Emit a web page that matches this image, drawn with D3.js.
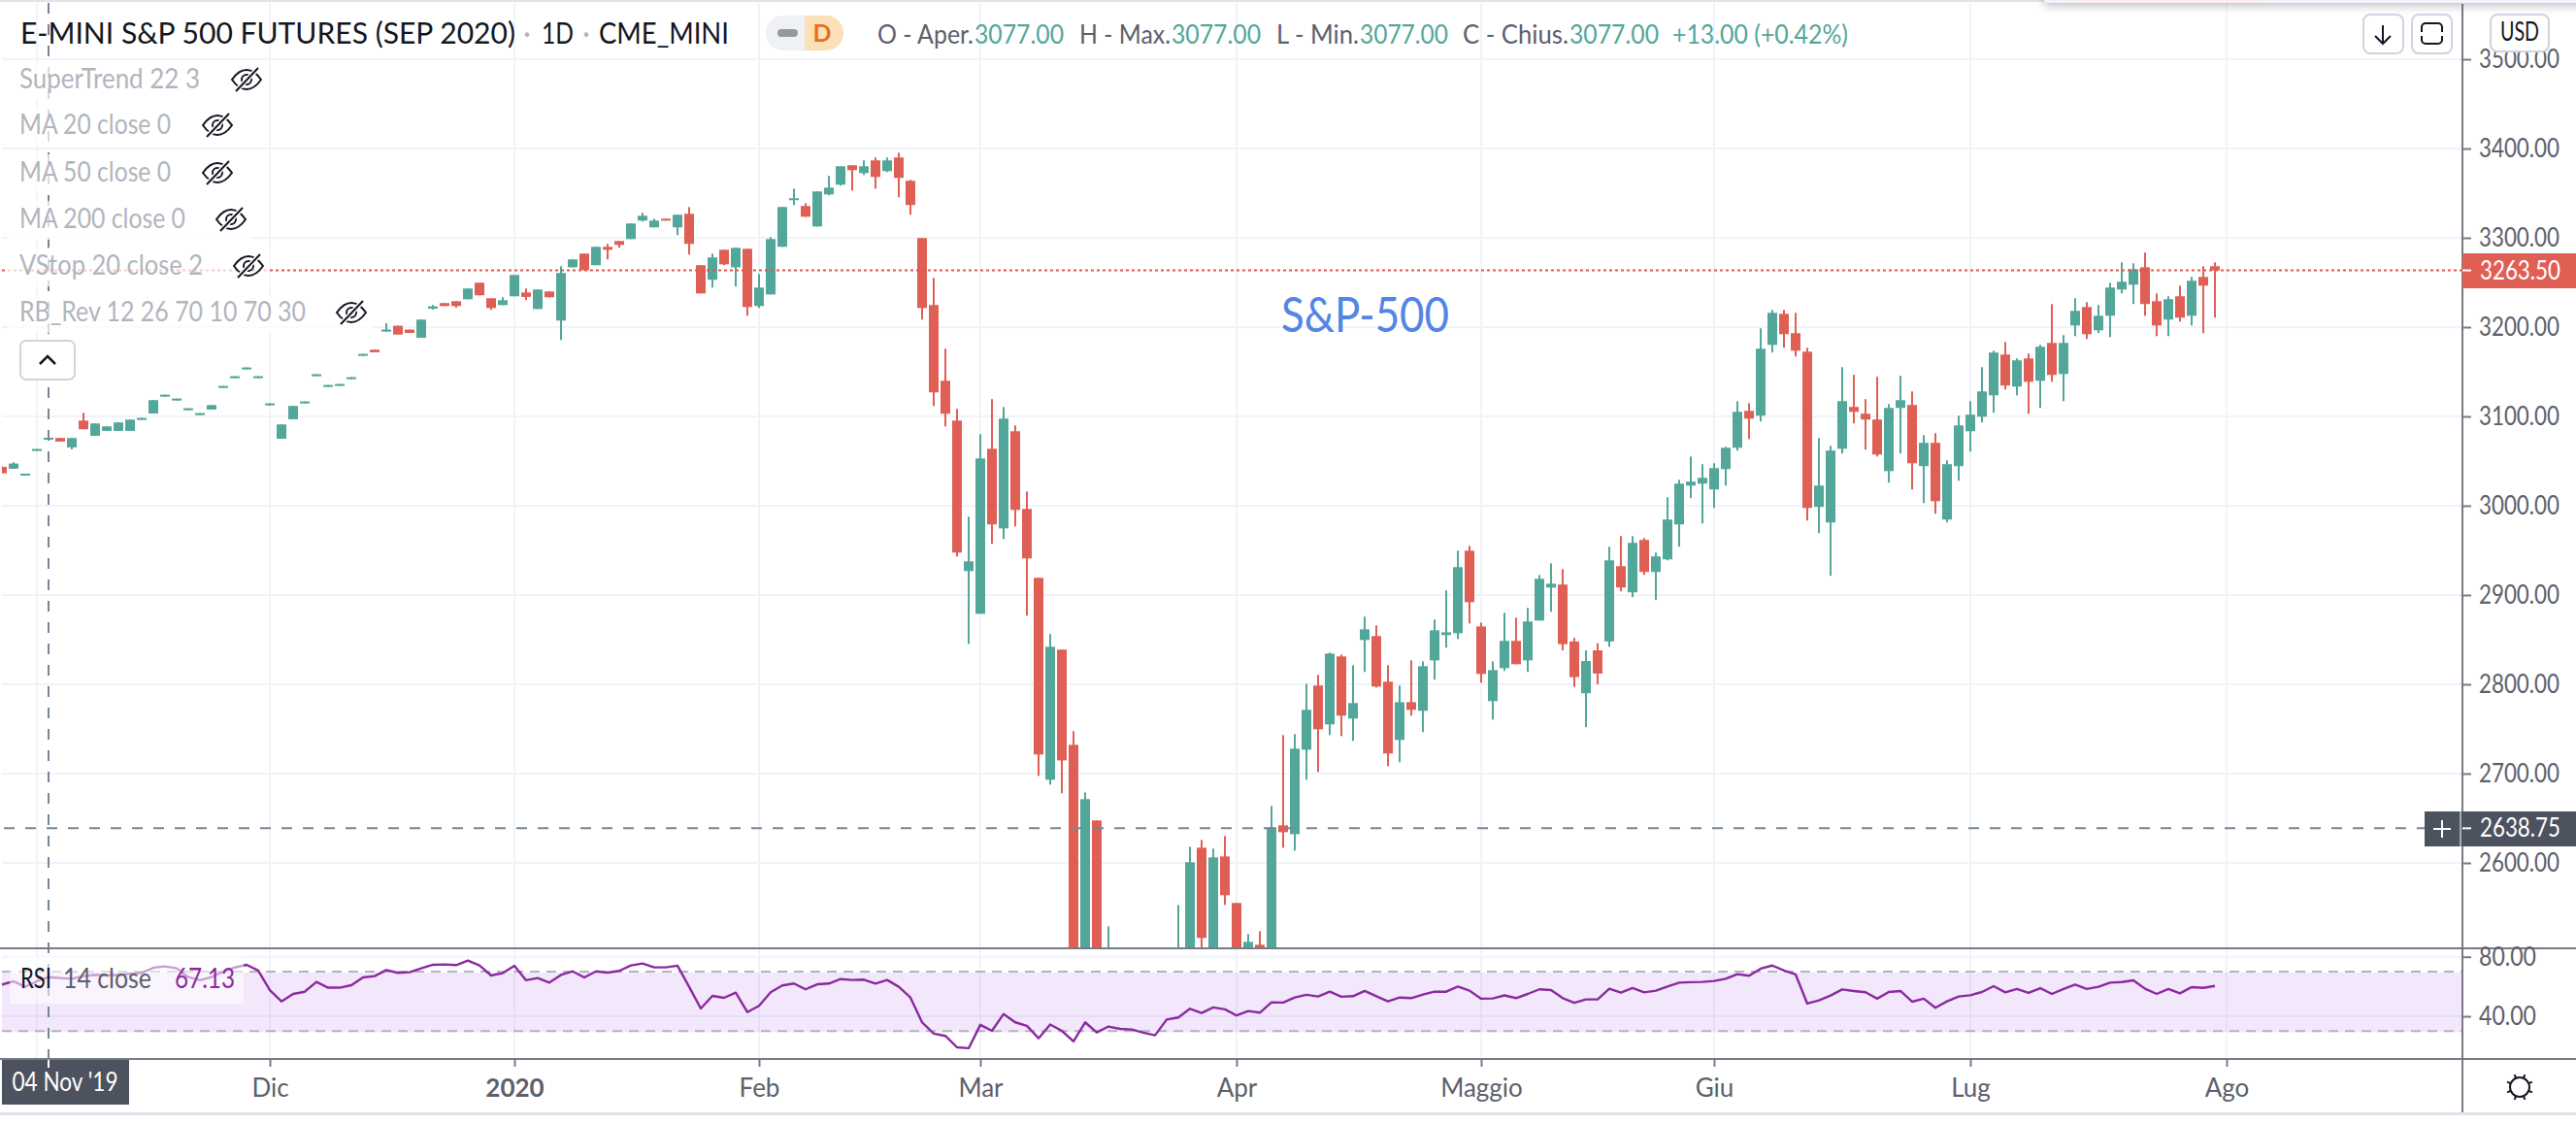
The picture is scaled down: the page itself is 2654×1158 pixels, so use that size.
<!DOCTYPE html>
<html>
<head>
<meta charset="utf-8">
<title>E-MINI S&P 500 FUTURES</title>
<script src="https://cdn.jsdelivr.net/npm/d3@7/dist/d3.min.js"></script>
<style>
  html, body { margin: 0; padding: 0; background: #ffffff; overflow: hidden; }
  svg { display: block; }
</style>
</head>
<body>
<div id="chart"></div>
<script>
// daily candles, one value per trading day (values under 2504 are off the pane, so estimated)
const opens = [
  3043.5,3041.4,3034.5,3061.3,3074,3075.8,3065.3,3095.3,3078.3,3083.8,
  3083.8,3083.8,3096.1,3103.3,3122.2,3117.8,3107,3101.5,3107.7,3131.9,
  3142.8,3152.6,3142.8,3112.4,3075,3096.8,3114.6,3145,3133,3134.1,
  3141.7,3167.8,3174.7,3195,3201.5,3197.2,3188.1,3220.7,3226.9,3229,
  3231.2,3249.7,3232.3,3224.7,3234.5,3238.8,3220.3,3239.9,3207.3,3267,
  3282.3,3269.3,3289.9,3296.4,3298.6,3319.3,3311.7,3321.4,3311.7,3326.9,
  3269.3,3253,3286.6,3267,3287.7,3223.6,3236.6,3289.9,3342.8,3335.6,
  3312.7,3348.6,3359.5,3381.2,3372.5,3386.7,3374.7,3389.9,3363.8,3299.7,
  3224.7,3139.9,3095.3,2926.8,2879,3063.8,2974.6,3083.4,2996.4,2919.2,
  2693.1,2838.8,2732.2,2450,2647.5,2300,2470,2370,2430,2280,
  2390,2230,2430,2617,2490,2607.2,2555.1,2470,2508.3,2480,
  2642,2632.2,2726.8,2798.6,2755.1,2831.2,2761.6,2849.6,2854,2802.9,
  2737.7,2780,2770.3,2826.8,2855.1,2857.2,2949.6,2864.8,2781.2,2818.1,
  2848.6,2826.8,2871.4,2908.3,2911.7,2848,2790,2838,2848,2932.3,
  2903,2961.7,2925.8,2939.9,2979,3022.5,3024.7,3018.2,3041,3064.9,
  3106.2,3100.8,3180.1,3214.9,3193.2,3172.5,2998.6,2981.2,3063.8,3110.6,
  3103,3096.5,3038.8,3109.5,3112.8,3044.3,3070.4,2984.5,3044.3,3083.4,
  3099.7,3123.6,3169.3,3133.4,3164.9,3139.9,3182.3,3147.5,3201.9,3222.5,
  3196.4,3212.7,3242.1,3247.5,3267,3229,3208.4,3234.5,3212.7,3256.2,
  3268.2
];
const highs = [
  3044,3048.6,3035.9,3063.5,3076.1,3075.8,3075.8,3104,3092.1,3088.8,
  3093.2,3096.4,3098.3,3118.2,3124.3,3120,3109.1,3103.7,3112.7,3134.1,
  3145,3154.8,3145,3114.6,3091,3111.7,3116.7,3147.2,3135.2,3136.3,
  3143.9,3170,3174.7,3204.4,3201.5,3197.2,3208.4,3224.7,3226.9,3229,
  3243.2,3249.7,3232.3,3233.4,3258.4,3243.2,3242.1,3239.9,3268.2,3275.8,
  3282.3,3289.9,3293.2,3296.4,3316,3328,3321.4,3321.4,3325.8,3334.5,
  3269.3,3282.3,3286.6,3288.8,3287.7,3259.5,3300.8,3334.5,3355.1,3338.8,
  3351.9,3369.3,3380.1,3381.2,3386.7,3389.9,3389.9,3395.3,3364.9,3299.7,
  3255.1,3175.8,3108.4,2987.7,3080.1,3119.3,3110.6,3089.9,3015.9,2919.2,
  2856.2,2838.8,2747.5,2679,2647.5,2529,2490,2480,2470,2420,
  2450,2552.9,2618,2625.7,2616,2630,2555.1,2520.3,2523.5,2663.8,
  2743.1,2744.2,2800.7,2810.5,2835.5,2833.3,2821.4,2875.7,2866,2821.4,
  2798.6,2826.8,2825.7,2872.5,2905.1,2949.6,2955,2869.2,2825.7,2880,
  2874.6,2885.5,2922.5,2935.5,2929,2852,2838,2846,2954,2966,
  2966,2963.8,2947.5,3009.5,3029,3055.1,3046.5,3047.5,3066,3117.1,
  3114.9,3198.6,3219.3,3219.3,3216,3176.9,3075.8,3067.1,3155.1,3146.5,
  3119.3,3144.3,3113.8,3145.4,3128,3079,3081.2,3050.8,3100.8,3117.1,
  3155.1,3173.6,3183.4,3164.9,3170.4,3180.1,3225.8,3191,3232.3,3227.9,
  3224.7,3249.7,3272.5,3271.4,3283.4,3237.7,3234.5,3246.4,3256.2,3268.2,
  3272.5
];
const lows = [
  3036,3041.4,3034.5,3061.3,3074,3071.8,3063.1,3085.6,3078.3,3083.8,
  3083.8,3083.8,3096.1,3103.3,3122.2,3117.8,3107,3101.5,3107.7,3131.9,
  3142.8,3152.6,3142.8,3112.4,3075,3096.8,3114.6,3145,3133,3134.1,
  3141.7,3167.8,3171.8,3195,3191.7,3193.5,3188.1,3219.6,3223.6,3221.8,
  3231.2,3235.6,3219.3,3224.7,3234.5,3230.1,3220.3,3233.4,3185.6,3267,
  3263.8,3269.3,3275.8,3288.8,3298.6,3318.2,3311.7,3319.3,3303,3281.2,
  3237.7,3244.3,3269.3,3245.4,3212.7,3221.4,3236.6,3289.9,3336.7,3323.6,
  3312.7,3347.5,3358.4,3353,3370.3,3355.1,3373.6,3345.3,3325.8,3208.4,
  3111.7,3088.8,2943.1,2845.3,2879,2957.2,2962.7,2976.8,2876.8,2697.5,
  2687.7,2677.9,2400,2440,2380,2280,2360,2340,2280,2250,
  2190,2200,2410,2470,2450,2552.9,2450,2450,2460,2470,
  2617,2613.8,2693.1,2701.8,2743.1,2742,2736.6,2813.8,2796.4,2708.3,
  2712.7,2764.9,2746.4,2805.1,2841,2850.7,2868.1,2801.8,2760.5,2814.9,
  2822.5,2813.8,2871.4,2881.2,2838,2797,2752,2800,2842,2904,
  2897.5,2922.5,2894.3,2938.8,2954.1,3008.4,2980.1,2997.5,3022.5,3061.7,
  3074.7,3094.3,3171.5,3176.9,3167.1,2983.4,2969.3,2921.5,3058.4,3092.1,
  3062.8,3055.1,3025.8,3058.4,3018.2,3003,2991,2981.2,3028,3060.6,
  3093.2,3104.1,3130.1,3123.6,3103,3109.5,3138.8,3117.1,3189.9,3186.6,
  3193.2,3188.8,3237.7,3225.8,3212.7,3189.9,3189.9,3206.2,3201.9,3193.2,
  3210.6
];
const closes = [
  3036.3,3047.2,3035.9,3063.5,3076.1,3071.8,3075.8,3085.6,3092.1,3088.8,
  3093.2,3096.4,3098.3,3118.2,3124.3,3120,3109.1,3103.7,3112.7,3134.1,
  3145,3154.8,3145,3114.6,3091,3111.7,3116.7,3147.2,3135.2,3136.3,
  3143.9,3170,3171.8,3197.2,3191.7,3193.5,3208.4,3223.2,3223.6,3223.6,
  3243.2,3235.6,3221.4,3230.1,3258.4,3233.8,3242.1,3233.4,3260.6,3275.8,
  3263.8,3289.9,3286.6,3292.1,3316,3324.7,3319.3,3319.3,3325.8,3293.2,
  3237.7,3278,3270.3,3288.8,3222.5,3244.3,3298.6,3334.5,3344.3,3323.6,
  3351.9,3356.2,3380.1,3375.8,3380.1,3368.2,3386.7,3367.1,3336.7,3221.4,
  3126.9,3103,2947.5,2937.7,3052.9,2979,3097.5,2995.3,2941,2721.4,
  2842,2714.8,2480,2671.4,2390,2480,2380,2440,2290,2400,
  2230,2450,2600.7,2516,2606.2,2563.8,2450,2511.6,2480,2639.8,
  2634.4,2727.9,2771.4,2749.6,2834.4,2764.9,2779,2861.6,2797.5,2722.5,
  2780,2771.4,2820.3,2860.5,2858.3,2931.2,2892,2811.6,2815.9,2848.6,
  2822.5,2870.3,2918.1,2912.7,2845,2808,2826,2812,2938.8,2908.4,
  2958.4,2925.8,2943.2,2984.5,3024.7,3026.9,3031.2,3042.1,3064.9,3105.1,
  3097.5,3175.8,3216,3192.1,3173.6,2997.5,3022.5,3061.7,3117.1,3105.1,
  3096.5,3057.3,3109.5,3118.2,3047.5,3070.4,3005.1,3046.5,3089.9,3101.9,
  3128,3171.5,3134.5,3162.8,3138.8,3178,3146.4,3182.3,3218.2,3192.1,
  3212.7,3244.3,3250.8,3264.9,3225.8,3201.9,3231.2,3210.6,3251.9,3246.4,
  3263.5
];
const rsiValues = [
  61.3,63.5,59.8,63.5,66.3,65.7,65.2,67,67.9,67.4,
  67.9,68.5,69.2,72.6,73.5,72.2,66.3,64.2,66.3,70,
  72.8,74.6,70.7,57.6,50,55,56.5,63.1,59.2,59.2,
  60.9,66.1,67,71.1,69.2,69.6,72.2,74.6,74.8,74.4,
  77.4,74.2,67.4,69,74,64.2,65.7,62.6,67.8,70.2,
  66.1,70.2,69.4,70.5,74.2,75.5,72.9,72.9,74,59.8,
  45.2,53.7,52.4,55.9,42.8,47,56.1,60.7,62,58.1,
  61.5,62,65,64.4,64.6,62,64.4,59.8,52.6,35.9,
  28.3,26.8,19.1,18.5,34.2,30.2,41.5,35.9,33.5,25.2,
  34.4,30.2,23.1,35.9,29.1,33.1,31.5,31.1,29,27.2,
  37.8,39.2,45,42.2,45.9,44.6,40.5,43.5,42.4,49.4,
  49.2,52.6,54.4,53.3,56.5,53.1,53.5,57,53.5,50,
  52.6,52.2,54.6,56.5,56.5,60,57.2,51.8,52,54,
  52.2,55,58.1,57.6,52.2,49,51.3,51.3,58.5,55.9,
  59,56.1,57.2,60,62.6,62.9,63.1,63.7,65.2,68.3,
  67.2,72,74.1,70.7,68.1,48.5,50.7,53.9,58,57,
  56.1,51.8,56.3,57,49.8,51.8,45.7,50,53.3,54.1,
  56.3,60.2,56.1,58.3,55.7,58.9,55,58.3,61.3,58.3,
  59.8,62.6,63,64.1,58.5,55,58.3,55.4,59.6,59.1,
  60.4
];

// axis ticks
const priceTicks = [2600, 2700, 2800, 2900, 3000, 3100, 3200, 3300, 3400, 3500];
const rsiTicks = [40, 80];
const monthIndexes = [23, 44, 65, 84, 106, 127, 147, 169, 191];
const monthLabels = ["Dic", "2020", "Feb", "Mar", "Apr", "Maggio", "Giu", "Lug", "Ago"];
const novIndex = 3;     // gridline without a label, hidden behind the cursor date

// marker values
const lastPrice = 3263.5;
const cursorPrice = 2638.75;
const cursorIndex = 4;
const rsiUpper = 70;
const rsiLower = 30;
const rsiLegendValue = 67.13;   // value at the cursor day, as printed in the legend

// texts
const indicatorNames = ["SuperTrend 22 3", "MA 20 close 0", "MA 50 close 0", "MA 200 close 0", "VStop 20 close 2", "RB_Rev 12 26 70 10 70 30"];

// ----- layout -----
const width = 2654, height = 1158;
const axisX = 2537;
const mainBottom = 977, rsiBottom = 1091;
const font = "Lato, 'Noto Sans', sans-serif";
const teal = "#53a69a", red = "#e05f55";
const gridColor = "#f0f3fa", axisColor = "#787b86", textColor = "#5d606b", darkLabel = "#4c525e";

// ----- scales -----
const x = d3.scaleLinear().domain([0, 191]).range([2, 2294]);
const y = d3.scaleLinear().domain([2500, 3500]).range([981, 61]);
const yRsi = d3.scaleLinear().domain([30, 80]).range([1062.3, 985.7]);

const svg = d3.select("#chart").append("svg")
  .attr("width", width)
  .attr("height", height)
  .style("font-family", font);

const defs = svg.append("defs");
defs.append("clipPath").attr("id", "main-clip").append("rect")
  .attr("x", 2).attr("y", 3).attr("width", axisX - 2).attr("height", mainBottom - 3);
defs.append("filter").attr("id", "popup-shadow")
  .attr("x", "-5%").attr("y", "-50%").attr("width", "110%").attr("height", "250%")
  .append("feDropShadow")
  .attr("dx", 0).attr("dy", 3).attr("stdDeviation", 4)
  .attr("flood-color", "#2a2e39").attr("flood-opacity", 0.3);

// helper: text with a fixed pixel width so it lines up with the screenshot
function label(parent, str, px, py, size, fill, w, anchor) {
  const t = parent.append("text")
    .attr("x", px)
    .attr("y", py)
    .attr("font-size", size)
    .attr("fill", fill)
    .attr("text-anchor", anchor || "start")
    .text(str);
  if (w) t.attr("textLength", w).attr("lengthAdjust", "spacingAndGlyphs");
  return t;
}

// ----- page frame -----
svg.append("rect").attr("width", width).attr("height", 2).attr("fill", "#e0e3eb");
svg.append("rect").attr("y", 1146).attr("width", width).attr("height", 3).attr("fill", "#e0e3eb");

// ----- grid -----
const grid = svg.append("g").attr("stroke", gridColor).attr("stroke-width", 2);
grid.selectAll(".h").data(priceTicks).enter().append("line")
  .attr("x1", 2).attr("x2", axisX)
  .attr("y1", d => y(d)).attr("y2", d => y(d));
grid.selectAll(".v").data([novIndex].concat(monthIndexes)).enter().append("line")
  .attr("x1", d => x(d)).attr("x2", d => x(d))
  .attr("y1", 3).attr("y2", rsiBottom);
grid.selectAll(".r").data(rsiTicks).enter().append("line")
  .attr("x1", 2).attr("x2", axisX)
  .attr("y1", d => yRsi(d)).attr("y2", d => yRsi(d));

// ----- RSI pane -----
svg.append("rect")
  .attr("x", 2).attr("width", axisX - 2)
  .attr("y", yRsi(rsiUpper) + 1).attr("height", yRsi(rsiLower) - yRsi(rsiUpper))
  .attr("fill", "#a855e8").attr("opacity", 0.14);
svg.selectAll(".rsi-level").data([rsiUpper, rsiLower]).enter().append("line")
  .attr("x1", 2).attr("x2", axisX)
  .attr("y1", d => yRsi(d)).attr("y2", d => yRsi(d))
  .attr("stroke", "#b4b4bc").attr("stroke-width", 2)
  .attr("stroke-dasharray", "10 7");

const rsiLine = d3.line().x((d, i) => x(i)).y(d => yRsi(d));
svg.append("path").datum(rsiValues)
  .attr("d", rsiLine)
  .attr("fill", "none")
  .attr("stroke", "#8a2a9e")
  .attr("stroke-width", 2.4)
  .attr("stroke-linejoin", "round");

// ----- candles -----
const candles = svg.append("g").attr("clip-path", "url(#main-clip)");
const candle = candles.selectAll(".candle").data(closes).enter().append("g")
  .attr("fill", (d, i) => d >= opens[i] ? teal : red);
candle.append("rect")
  .attr("x", (d, i) => x(i) - 1)
  .attr("width", 2)
  .attr("y", (d, i) => y(highs[i]))
  .attr("height", (d, i) => y(lows[i]) - y(highs[i]));
candle.append("rect")
  .attr("x", (d, i) => x(i) - 5)
  .attr("width", 10)
  .attr("y", (d, i) => y(Math.max(opens[i], d)))
  .attr("height", (d, i) => Math.max(2, Math.abs(y(opens[i]) - y(d))));

// ----- last price + crosshair lines -----
svg.append("line")
  .attr("x1", 2).attr("x2", axisX)
  .attr("y1", y(lastPrice)).attr("y2", y(lastPrice))
  .attr("stroke", "#e0564c").attr("stroke-width", 2)
  .attr("stroke-dasharray", "3 3");
const cursor = svg.append("g")
  .attr("stroke", "#758696").attr("stroke-width", 2).attr("stroke-dasharray", "11 11");
cursor.append("line")
  .attr("x1", 4).attr("x2", axisX)
  .attr("y1", y(cursorPrice)).attr("y2", y(cursorPrice));
cursor.append("line")
  .attr("x1", x(cursorIndex)).attr("x2", x(cursorIndex))
  .attr("y1", 3).attr("y2", rsiBottom);

// ----- panes + axes -----
const frame = svg.append("g").attr("stroke", axisColor).attr("stroke-width", 2);
frame.append("line").attr("x1", 0).attr("x2", width).attr("y1", mainBottom).attr("y2", mainBottom);
frame.append("line").attr("x1", 0).attr("x2", width).attr("y1", rsiBottom).attr("y2", rsiBottom);
frame.append("line").attr("x1", axisX).attr("x2", axisX).attr("y1", 4).attr("y2", 1146);

function styleAxis(g, textWidth) {
  g.select(".domain").remove();
  g.selectAll(".tick line").attr("stroke", axisColor).attr("stroke-width", 2);
  g.selectAll(".tick text")
    .attr("font-family", font)
    .attr("font-size", 26)
    .attr("fill", textColor);
  if (textWidth) {
    g.selectAll(".tick text").attr("textLength", textWidth).attr("lengthAdjust", "spacingAndGlyphs");
  }
}

svg.append("g")
  .attr("transform", "translate(" + axisX + ",0)")
  .call(d3.axisRight(y).tickValues(priceTicks).tickFormat(d3.format(".2f")).tickSize(9).tickPadding(8))
  .call(styleAxis, 83);

svg.append("g")
  .attr("transform", "translate(" + axisX + ",0)")
  .call(d3.axisRight(yRsi).tickValues(rsiTicks).tickFormat(d3.format(".2f")).tickSize(9).tickPadding(8))
  .call(styleAxis, 59);

const timeAxis = svg.append("g")
  .attr("transform", "translate(0," + rsiBottom + ")")
  .call(d3.axisBottom(x).tickValues(monthIndexes)
    .tickFormat((d, i) => monthLabels[i]).tickSize(8).tickPadding(13))
  .call(styleAxis);
timeAxis.selectAll(".tick text")
  .attr("font-weight", (d, i) => monthLabels[i] === "2020" ? 700 : 400);

// ----- price axis tags -----
svg.append("rect")
  .attr("x", axisX).attr("y", 261).attr("width", width - axisX).attr("height", 36)
  .attr("fill", red);
svg.append("line")
  .attr("x1", axisX).attr("x2", axisX + 9)
  .attr("y1", y(lastPrice)).attr("y2", y(lastPrice))
  .attr("stroke", "#ffffff").attr("stroke-width", 2);
label(svg, d3.format(".2f")(lastPrice), 2555, y(lastPrice) + 9, 26, "#ffffff", 83);

svg.append("rect")
  .attr("x", 2498).attr("y", 836).attr("width", width - 2498).attr("height", 36)
  .attr("fill", darkLabel);
svg.append("line")
  .attr("x1", 2535).attr("x2", 2535).attr("y1", 836).attr("y2", 872)
  .attr("stroke", "#ffffff").attr("stroke-width", 1);
svg.append("line")
  .attr("x1", axisX).attr("x2", axisX + 9)
  .attr("y1", y(cursorPrice)).attr("y2", y(cursorPrice))
  .attr("stroke", "#ffffff").attr("stroke-width", 2);
svg.append("path")
  .attr("d", "M2507 854H2525M2516 845V863")
  .attr("stroke", "#ffffff").attr("stroke-width", 2);
label(svg, d3.format(".2f")(cursorPrice), 2555, y(cursorPrice) + 9, 26, "#ffffff", 83);

// ----- cursor date tag -----
svg.append("rect")
  .attr("x", 2).attr("y", 1092).attr("width", 131).attr("height", 46)
  .attr("fill", darkLabel);
svg.append("line")
  .attr("x1", x(cursorIndex)).attr("x2", x(cursorIndex)).attr("y1", 1092).attr("y2", 1100)
  .attr("stroke", "#ffffff").attr("stroke-width", 2);
label(svg, "04 Nov '19", 67, 1124, 26, "#ffffff", 109, "middle");

// ----- header line -----
label(svg, "E-MINI S&P 500 FUTURES (SEP 2020)", 21, 45, 30, "#131722", 510);
label(svg, "·", 543, 45, 30, "#b2b5be", null, "middle");
label(svg, "1D", 558, 45, 30, "#131722", 33);
label(svg, "·", 604, 45, 30, "#b2b5be", null, "middle");
label(svg, "CME_MINI", 617, 45, 30, "#131722", 134);

// interval badge
svg.append("path").attr("d", "M829 16H807a18 18 0 0 0 0 36H829Z").attr("fill", "#f0f1f4");
svg.append("path").attr("d", "M829 16H851a18 18 0 0 1 0 36H829Z").attr("fill", "#fde0b8");
svg.append("rect")
  .attr("x", 801).attr("y", 30).attr("width", 21).attr("height", 8).attr("rx", 4)
  .attr("fill", "#9598a1");
label(svg, "D", 847, 43, 25, "#e5701e", null, "middle").attr("font-weight", 700);

// OHLC values
const ohlcLabel = "#5d606b", ohlcValue = "#53a69a";
label(svg, "O - Aper.", 904, 45, 26, ohlcLabel, 99);
label(svg, "3077.00", 1004, 45, 26, ohlcValue, 92);
label(svg, "H - Max.", 1112, 45, 26, ohlcLabel, 94);
label(svg, "3077.00", 1207, 45, 26, ohlcValue, 92);
label(svg, "L - Min.", 1315, 45, 26, ohlcLabel, 85);
label(svg, "3077.00", 1401, 45, 26, ohlcValue, 91);
label(svg, "C - Chius.", 1507, 45, 26, ohlcLabel, 109);
label(svg, "3077.00", 1617, 45, 26, ohlcValue, 92);
label(svg, "+13.00 (+0.42%)", 1723, 45, 26, ohlcValue, 181);

// ----- indicator legend -----
const rowBaselines = [91, 138, 187, 235, 283, 331];
const rowTextWidths = [186, 156, 156, 171, 189, 295];
const rowEyeX = [254, 224, 224, 238, 256, 362];

indicatorNames.forEach((name, i) => {
  svg.append("rect")
    .attr("x", 8).attr("y", rowBaselines[i] - 28)
    .attr("width", rowEyeX[i] + 22 - 8).attr("height", 40)
    .attr("fill", "#ffffff").attr("opacity", 0.7);
  label(svg, name, 20, rowBaselines[i], 28, "#b2b5be", rowTextWidths[i]);

  // crossed-out eye
  const eye = svg.append("g")
    .attr("transform", "translate(" + rowEyeX[i] + "," + (rowBaselines[i] - 9) + ")")
    .attr("fill", "none").attr("stroke", "#131722").attr("stroke-width", 2);
  eye.append("path").attr("d", "M-15 0Q-8 -10 0 -10Q8 -10 15 0Q8 10 0 10Q-8 10 -15 0Z");
  eye.append("circle").attr("r", 5);
  eye.append("line")
    .attr("x1", -11).attr("y1", 12).attr("x2", 12).attr("y2", -12)
    .attr("stroke", "#ffffff").attr("stroke-width", 5);
  eye.append("line").attr("x1", -11).attr("y1", 12).attr("x2", 12).attr("y2", -12);
});

// collapse button
svg.append("rect")
  .attr("x", 21).attr("y", 351).attr("width", 56).attr("height", 40).attr("rx", 6)
  .attr("fill", "#ffffff").attr("stroke", "#d1d4dc").attr("stroke-width", 2);
svg.append("path")
  .attr("d", "M41 375L49 367L57 375")
  .attr("fill", "none").attr("stroke", "#131722").attr("stroke-width", 2.5);

// ----- RSI legend -----
svg.append("rect")
  .attr("x", 10).attr("y", 985).attr("width", 241).attr("height", 49)
  .attr("fill", "#ffffff").attr("opacity", 0.55);
label(svg, "RSI", 21, 1018, 28, "#131722", 32);
label(svg, "14 close", 65, 1018, 28, "#5d606b", 91);
label(svg, d3.format(".2f")(rsiLegendValue), 180, 1018, 28, "#8a2a9e", 62);

// ----- S&P label -----
label(svg, "S&P-500", 1320, 342, 50, "#5385e4", 173);

// ----- top-right controls -----
svg.append("rect")
  .attr("x", 2106).attr("y", -20).attr("width", 560).attr("height", 23).attr("rx", 4)
  .attr("fill", "#f0f3fa").attr("filter", "url(#popup-shadow)");
svg.append("rect").attr("x", 2134).attr("y", 0).attr("width", 198).attr("height", 3).attr("fill", "#fdeeee");

function button(bx, by, w, h) {
  svg.append("rect")
    .attr("x", bx).attr("y", by).attr("width", w).attr("height", h).attr("rx", 7)
    .attr("fill", "#ffffff").attr("stroke", "#d1d4dc").attr("stroke-width", 2);
}
button(2435, 15, 41, 40);
svg.append("path")
  .attr("d", "M2455 26V44M2447 37L2455 45L2463 37")
  .attr("fill", "none").attr("stroke", "#131722").attr("stroke-width", 2);
button(2485, 15, 41, 40);
svg.append("path")
  .attr("d", "M2495 33V28a4 4 0 0 1 4 -4H2512a4 4 0 0 1 4 4V33M2495 37V41a4 4 0 0 0 4 4H2512a4 4 0 0 0 4 -4V37")
  .attr("fill", "none").attr("stroke", "#131722").attr("stroke-width", 2);
button(2566, 15, 60, 38);
label(svg, "USD", 2596, 42, 26, "#131722", 40, "middle");

// ----- settings gear -----
const gear = svg.append("g")
  .attr("transform", "translate(2596,1120)")
  .attr("fill", "none").attr("stroke", "#131722").attr("stroke-width", 2);
gear.append("circle").attr("r", 10);
d3.range(8).forEach(k => {
  const a = k * Math.PI / 4 + Math.PI / 8;
  gear.append("line")
    .attr("x1", 10 * Math.cos(a)).attr("y1", 10 * Math.sin(a))
    .attr("x2", 14 * Math.cos(a)).attr("y2", 14 * Math.sin(a));
});
</script>
</body>
</html>
